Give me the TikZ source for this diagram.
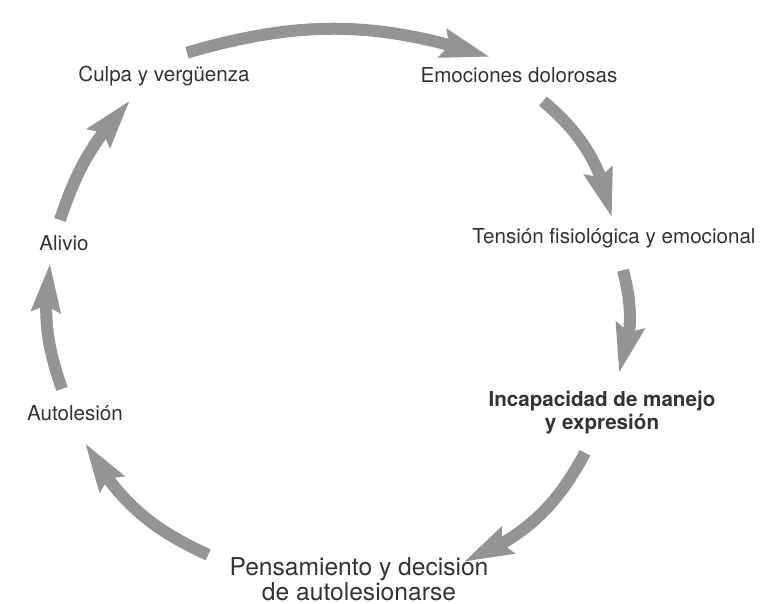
\documentclass[tikz,border=0pt]{standalone}
\usepackage{fontspec}
\setmainfont{TeX Gyre Heros}
\usetikzlibrary{arrows.meta,bending}

\begin{document}
\begin{tikzpicture}[x=0.5pt, y=0.5pt,
    lbl/.style={inner sep=0pt, align=center, text=black!80, font=\fontsize{10.3}{11.5}\selectfont},
    arr/.style={-{Stealth[length=24pt, width=14pt, inset=3pt, flex']}, line width=6pt, draw=black!42}
]
\useasboundingbox (0,0) rectangle (773,604);

\node[lbl] (culpa) at (164,528) {Culpa y vergüenza};
\node[lbl] (emoc) at (519,529) {Emociones dolorosas};
\node[lbl] (tension) at (614,366) {Tensión fisiológica y emocional};
\node[lbl, font=\fontsize{10.3}{11.5}\selectfont\bfseries] (incap) at (602,191) {Incapacidad de manejo\\y expresión};
\node[lbl, font=\fontsize{12.3}{11.5}\selectfont] (pens) at (359,25) {Pensamiento y decisión\\de autolesionarse};
\node[lbl] (autol) at (75,191) {Autolesión};
\node[lbl] (alivio) at (64,361) {Alivio};

\draw[arr] ([xshift=11.5pt,yshift=6.5pt]culpa.north) to[bend left=17] ([xshift=-14.5pt,yshift=5pt]emoc.north);
\draw[arr] ([xshift=12pt,yshift=-9pt]emoc.south) to[bend left=19] ([xshift=-1pt,yshift=5pt]tension.north);
\draw[arr] ([xshift=4.5pt,yshift=-11pt]tension.south) to[bend left=17] ([xshift=8.5pt,yshift=9pt]incap.north);
\draw[arr] ([xshift=-8.5pt,yshift=-9pt]incap.south) to[bend left=20] ([xshift=-12.5pt,yshift=-2.5pt]pens.north east);
\draw[arr] ([xshift=-10.5pt,yshift=1pt]pens.north west) to[bend left=18] ([xshift=5pt,yshift=-11pt]autol.south);
\draw[arr] ([xshift=-6.5pt,yshift=8pt]autol.north) to[bend left=14] ([xshift=-7pt,yshift=-6pt]alivio.south);
\draw[arr] ([xshift=-2pt,yshift=7.5pt]alivio.north) to[bend left=12] ([xshift=-17pt,yshift=-7pt]culpa.south);
\end{tikzpicture}
\end{document}
